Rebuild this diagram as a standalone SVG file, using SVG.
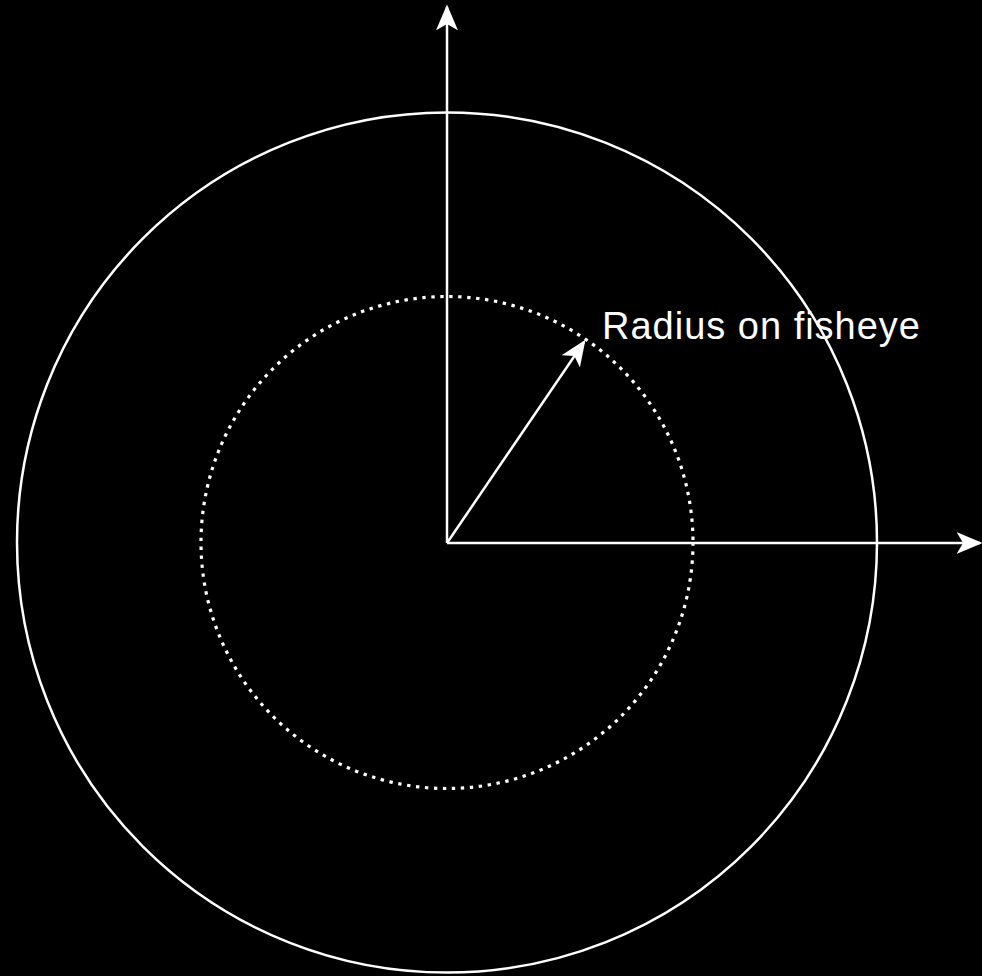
<svg xmlns="http://www.w3.org/2000/svg" width="982" height="976" viewBox="0 0 982 976">
<style>
.ring{fill:none;stroke:#ffffff;stroke-width:2.5}
.dot{fill:none;stroke:#ffffff;stroke-width:3.2;stroke-dasharray:3.4 5.6}
.ax{fill:none;stroke:#ffffff;stroke-width:2.5}
.lbl{font-family:"Liberation Sans",Arial,sans-serif;font-size:38px;fill:#ffffff}
</style>
<defs>
<marker id="ahb" viewBox="0 0 10 10" refX="9" refY="5" markerWidth="26" markerHeight="22" markerUnits="userSpaceOnUse" orient="auto" preserveAspectRatio="none">
<path d="M0,0 L10,5 L0,10 L2.5,5 Z" fill="#ffffff"/>
</marker>
</defs>
<rect width="982" height="976" fill="#000000"/>
<g id="outer-circle"><circle class="ring" cx="447" cy="542.5" r="430"/></g>
<g id="inner-circle"><circle class="dot" cx="447" cy="542.5" r="246"/></g>
<g id="connectors">
<line class="ax" x1="447" y1="543" x2="447" y2="7" marker-end="url(#ahb)"/>
<line class="ax" x1="447" y1="543" x2="980" y2="543" marker-end="url(#ahb)"/>
<line class="ax" x1="447" y1="543" x2="584" y2="342" marker-end="url(#ahb)"/>
</g>
<g id="label"><text class="lbl" x="602" y="339" textLength="318" lengthAdjust="spacing">Radius on fisheye</text></g>
</svg>
